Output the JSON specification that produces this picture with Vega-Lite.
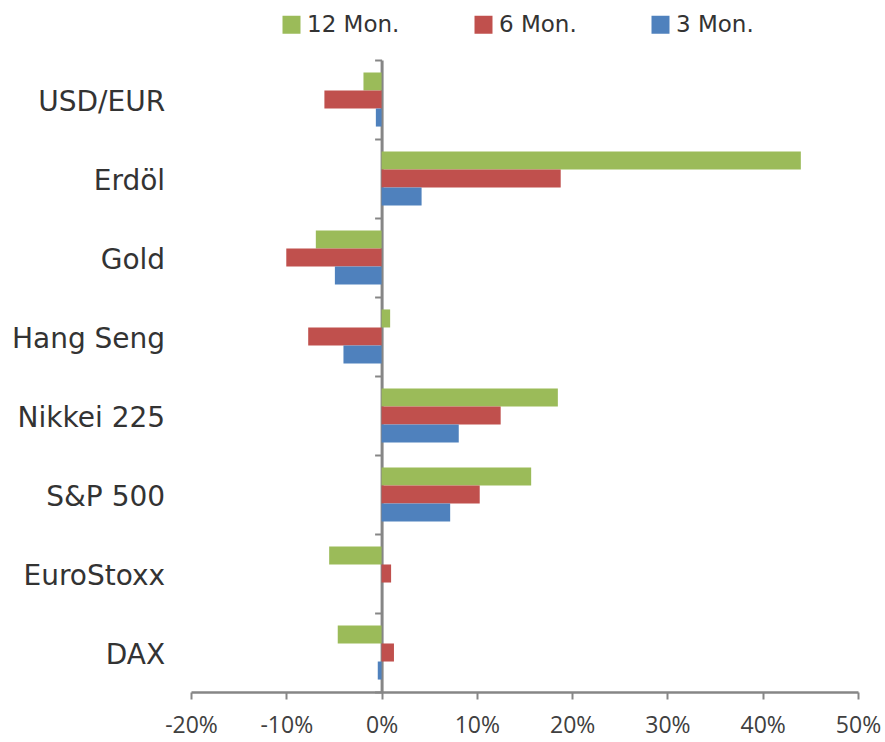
{
  "$schema": "https://vega.github.io/schema/vega-lite/v6.json",
  "autosize": {"type": "none"},
  "padding": {"left": 191, "top": 60, "right": 27, "bottom": 50},
  "width": 667,
  "height": 632,
  "background": "white",
  "config": {
    "view": {"stroke": null},
    "font": "DejaVu Sans"
  },
  "data": {
    "values": [
      {"cat": "USD/EUR", "series": "12 Mon.", "value": -1.9},
      {"cat": "USD/EUR", "series": "6 Mon.", "value": -6.0},
      {"cat": "USD/EUR", "series": "3 Mon.", "value": -0.6},
      {"cat": "Erdöl", "series": "12 Mon.", "value": 44.0},
      {"cat": "Erdöl", "series": "6 Mon.", "value": 18.8},
      {"cat": "Erdöl", "series": "3 Mon.", "value": 4.2},
      {"cat": "Gold", "series": "12 Mon.", "value": -6.9},
      {"cat": "Gold", "series": "6 Mon.", "value": -10.0},
      {"cat": "Gold", "series": "3 Mon.", "value": -4.9},
      {"cat": "Hang Seng", "series": "12 Mon.", "value": 0.9},
      {"cat": "Hang Seng", "series": "6 Mon.", "value": -7.7},
      {"cat": "Hang Seng", "series": "3 Mon.", "value": -4.0},
      {"cat": "Nikkei 225", "series": "12 Mon.", "value": 18.5},
      {"cat": "Nikkei 225", "series": "6 Mon.", "value": 12.5},
      {"cat": "Nikkei 225", "series": "3 Mon.", "value": 8.1},
      {"cat": "S&P 500", "series": "12 Mon.", "value": 15.7},
      {"cat": "S&P 500", "series": "6 Mon.", "value": 10.3},
      {"cat": "S&P 500", "series": "3 Mon.", "value": 7.2},
      {"cat": "EuroStoxx", "series": "12 Mon.", "value": -5.5},
      {"cat": "EuroStoxx", "series": "6 Mon.", "value": 1.0},
      {"cat": "EuroStoxx", "series": "3 Mon.", "value": 0.0},
      {"cat": "DAX", "series": "12 Mon.", "value": -4.6},
      {"cat": "DAX", "series": "6 Mon.", "value": 1.3},
      {"cat": "DAX", "series": "3 Mon.", "value": -0.4}
    ]
  },
  "mark": {"type": "bar"},
  "encoding": {
    "y": {
      "field": "cat",
      "type": "nominal",
      "sort": ["USD/EUR", "Erdöl", "Gold", "Hang Seng", "Nikkei 225", "S&P 500", "EuroStoxx", "DAX"],
      "scale": {"paddingInner": 0, "paddingOuter": 0},
      "axis": {
        "title": null,
        "offset": -190.6,
        "domainColor": "#868686",
        "domainWidth": 3,
        "tickBand": "extent",
        "tickColor": "#868686",
        "tickWidth": 2,
        "tickSize": 7,
        "labelPadding": 210,
        "labelOffset": 3,
        "labelFontSize": 28,
        "labelColor": "#333333",
        "labelFont": "DejaVu Sans",
        "grid": false
      }
    },
    "yOffset": {
      "field": "series",
      "type": "nominal",
      "sort": ["12 Mon.", "6 Mon.", "3 Mon."],
      "scale": {"paddingInner": 0, "paddingOuter": 0.69}
    },
    "x": {
      "field": "value",
      "type": "quantitative",
      "scale": {"domain": [-20, 50], "nice": false, "zero": false},
      "axis": {
        "title": null,
        "values": [-20, -10, 0, 10, 20, 30, 40, 50],
        "labelExpr": "datum.value + '%'",
        "grid": false,
        "domainColor": "#868686",
        "domainWidth": 2.5,
        "tickColor": "#868686",
        "tickWidth": 2,
        "tickSize": 7,
        "labelPadding": 15,
        "labelFontSize": 23,
        "labelColor": "#404040",
        "labelFont": "Open Sans",
        "labelFlush": false
      }
    },
    "color": {
      "field": "series",
      "type": "nominal",
      "sort": ["12 Mon.", "6 Mon.", "3 Mon."],
      "scale": {"domain": ["12 Mon.", "6 Mon.", "3 Mon."], "range": ["#9BBB59", "#C0504D", "#4F81BD"]},
      "legend": {
        "title": null,
        "orient": "none",
        "direction": "horizontal",
        "legendX": 89,
        "legendY": -47,
        "symbolType": "square",
        "symbolSize": 324,
        "symbolStrokeWidth": 0,
        "labelFontSize": 23,
        "labelColor": "#333333",
        "labelFont": "DejaVu Sans",
        "columnPadding": 72,
        "labelOffset": 4
      }
    }
  }
}
